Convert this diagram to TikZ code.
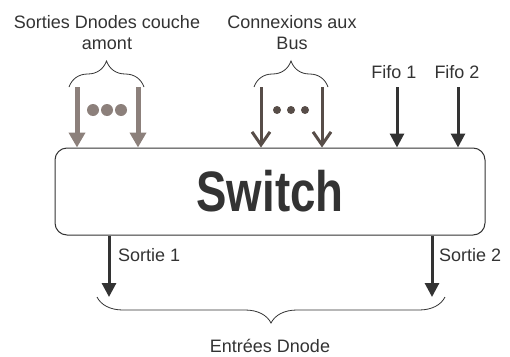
\documentclass[tikz,border=0pt]{standalone}
\usepackage{fontspec}
\setmainfont{Liberation Sans}
\usepackage{graphicx}
\usetikzlibrary{arrows.meta,decorations.pathreplacing}
\definecolor{grisclair}{HTML}{8C807B}
\definecolor{grisbrun}{HTML}{574D48}
\definecolor{grisfonce}{HTML}{333333}
\tikzset{
  amont/.style={draw=grisclair,line width=5pt,-{Triangle[width=16pt,length=15pt]}},
  bus/.style={draw=grisbrun,line width=3pt,-{Straight Barb[width=18pt,length=13pt]}},
  fleche/.style={draw=grisfonce,line width=3pt,-{Triangle[width=14pt,length=14pt]}},
  accolade/.style={draw=grisfonce,line width=0.8pt,decorate,decoration={brace,amplitude=26pt}},
  etiq/.style={text=grisfonce,font=\fontsize{18}{21}\selectfont,align=center,inner sep=0pt}
}

\begin{document}
\begin{tikzpicture}[x=1pt,y=-1pt]
\useasboundingbox (0,0) rectangle (510,356);
% le switch
\node[draw=grisfonce,line width=1pt,rounded corners=12pt,minimum width=430pt,
  minimum height=87pt,inner sep=0pt,text=grisfonce] (sw) at (270,191.5)
  {\scalebox{0.8}[1]{\fontsize{57}{57}\selectfont\bfseries Switch}};
% entrees
\coordinate (a1) at (77,87);
\coordinate (a2) at (138,87);
\coordinate (b1) at (261,87);
\coordinate (b2) at (322,87);
\coordinate (f1) at (397,87);
\coordinate (f2) at (458,87);
\draw[amont] (a1) -- (a1 |- sw.north);
\draw[amont] (a2) -- (a2 |- sw.north);
\draw[bus] (b1) -- (b1 |- sw.north);
\draw[bus] (b2) -- (b2 |- sw.north);
\draw[fleche] (f1) -- (f1 |- sw.north);
\draw[fleche] (f2) -- (f2 |- sw.north);
\fill[grisclair] (93,110) circle[radius=6pt] (107,110) circle[radius=6pt] (121,110) circle[radius=6pt];
\fill[grisbrun] (277,110) circle[radius=4pt] (291,110) circle[radius=4pt] (305,110) circle[radius=4pt];
% accolades du haut
\draw[accolade] (69,87) -- (144,87);
\draw[accolade] (254,87) -- (328,87);
\node[etiq] (amont) at (107,33) {Sorties Dnodes couche\\amont};
\node[etiq] (bus) at (292,33) {Connexions aux\\Bus};
\node[etiq] (fifo1) at (394,72) {Fifo 1};
\node[etiq] (fifo2) at (457,72) {Fifo 2};
% sorties
\coordinate (s1) at (109,297);
\coordinate (s2) at (432,297);
\draw[fleche] (s1 |- sw.south) -- (s1);
\draw[fleche] (s2 |- sw.south) -- (s2);
\node[etiq,anchor=west] (sortie1) at (118,255) {Sortie 1};
\node[etiq,anchor=west] (sortie2) at (439,255) {Sortie 2};
\draw[accolade] (445,297) -- (97,297);
\node[etiq] (dnode) at (270,346) {Entrées Dnode};
\end{tikzpicture}
\end{document}
